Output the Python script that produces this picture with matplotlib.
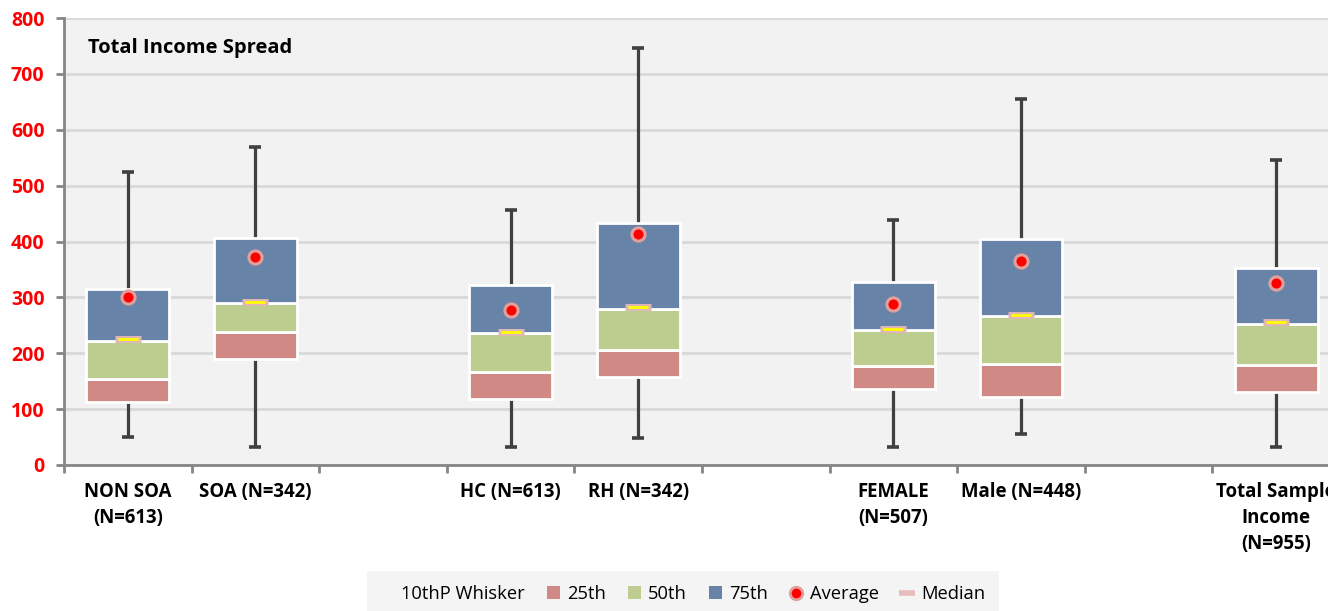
import matplotlib
matplotlib.use("Agg")
import matplotlib.pyplot as plt
from matplotlib.lines import Line2D
from matplotlib.patches import Patch
import numpy as np

plt.rcParams['font.family'] = ['Open Sans', 'DejaVu Sans']

# ---- data (10 slots, None = empty spacer slot) ----
labels = ["NON SOA\n(N=613)", "SOA (N=342)", "", "HC (N=613)", "RH (N=342)", "",
          "FEMALE\n(N=507)", "Male (N=448)", "", "Total Sample\nIncome\n(N=955)"]
whisker_low = [50, 32, None, 32, 49, None, 32, 55, None, 33]
box_bottom  = [113, 190, None, 119, 158, None, 136, 121, None, 131]
p25_top     = [154, 238, None, 166, 205, None, 177, 181, None, 179]
p50_top     = [222, 290, None, 236, 280, None, 242, 266, None, 253]
p75_top     = [315, 406, None, 323, 433, None, 327, 405, None, 353]
whisker_high = [524, 569, None, 457, 746, None, 438, 655, None, 545]
average     = [301, 372, None, 277, 414, None, 289, 365, None, 326]
median      = [225, 292, None, 238, 282, None, 243, 268, None, 256]

c_red = "#d18985"
c_green = "#bccd8f"
c_blue = "#6883a8"
c_whisk = "#404040"

fig = plt.figure(figsize=(13.28, 6.11), dpi=100)
ax = fig.add_axes([64/1328, (611-465)/611, 1276/1328, 447/611])
ax.set_facecolor("#f2f2f2")

n = len(labels)
x = np.arange(n)
w = 0.65
cap = 0.047
for i in range(n):
    if whisker_low[i] is None:
        continue
    # whiskers
    ax.plot([x[i], x[i]], [whisker_low[i], box_bottom[i]], color=c_whisk, lw=2.3, zorder=2, solid_capstyle='butt')
    ax.plot([x[i], x[i]], [p75_top[i], whisker_high[i]], color=c_whisk, lw=2.3, zorder=2, solid_capstyle='butt')
    ax.plot([x[i]-cap, x[i]+cap], [whisker_low[i]]*2, color=c_whisk, lw=2.6, zorder=2, solid_capstyle='butt')
    ax.plot([x[i]-cap, x[i]+cap], [whisker_high[i]]*2, color=c_whisk, lw=2.6, zorder=2, solid_capstyle='butt')
    # stacked boxes
    ax.bar(x[i], p25_top[i]-box_bottom[i], bottom=box_bottom[i], width=w, color=c_red,
           edgecolor="white", linewidth=2, zorder=3)
    ax.bar(x[i], p50_top[i]-p25_top[i], bottom=p25_top[i], width=w, color=c_green,
           edgecolor="white", linewidth=2, zorder=3)
    ax.bar(x[i], p75_top[i]-p50_top[i], bottom=p50_top[i], width=w, color=c_blue,
           edgecolor="white", linewidth=2, zorder=3)
    # median
    ax.plot([x[i]], [median[i]], marker='_', markersize=19, markeredgewidth=5,
            color="#dfb7b5", zorder=4)
    ax.plot([x[i]], [median[i]], marker='_', markersize=14, markeredgewidth=2,
            color="#ffff00", zorder=5)
    # average
    ax.plot([x[i]], [average[i]], marker='o', markersize=9.5, markerfacecolor="#ff0000",
            markeredgecolor="#e0a09c", markeredgewidth=2.2, zorder=6, linestyle='none')

ax.set_xlim(-0.5, n-0.5)
ax.set_ylim(0, 800)
ax.set_yticks(np.arange(0, 801, 100))
ax.set_xticks(np.arange(-0.5, n, 1.0))
ax.set_xticklabels([])
ax.set_xticks(x, minor=True)
ax.set_xticklabels(labels, minor=True, fontsize=13.4, fontweight='bold', color='black',
                   linespacing=1.4, va='top')
ax.tick_params(axis='x', which='minor', length=0, pad=12)
ax.tick_params(axis='x', which='major', length=6, width=2, color='#868686', direction='out')
ax.tick_params(axis='y', length=6, width=2, color='#868686', direction='out', pad=8,
               labelsize=14, labelcolor='#ff0000')
for lab in ax.get_yticklabels():
    lab.set_fontweight('bold')
ax.grid(axis='y', color='#d9d9d9', lw=2, zorder=0)
ax.set_axisbelow(True)
for s in ['top', 'right']:
    ax.spines[s].set_visible(False)
for s in ['left', 'bottom']:
    ax.spines[s].set_color('#868686')
    ax.spines[s].set_linewidth(2)

ax.text((88-64)/1276, (465-48)/447, "Total Income Spread", transform=ax.transAxes,
        fontsize=14.5, fontweight='bold', va='center', ha='left')

handles = [
    Line2D([], [], color='none'),
    Patch(facecolor=c_red, edgecolor='none'),
    Patch(facecolor=c_green, edgecolor='none'),
    Patch(facecolor=c_blue, edgecolor='none'),
    Line2D([], [], marker='o', linestyle='none', markersize=9, markerfacecolor='#ff0000',
           markeredgecolor='#e0a09c', markeredgewidth=2),
    Line2D([], [], marker='_', linestyle='none', markersize=12, markeredgewidth=4,
           color='#e6bcbc'),
]
names = ["10thP Whisker", "25th", "50th", "75th", "Average", "Median"]
leg = fig.legend(handles, names, loc='center', bbox_to_anchor=(683/1328, 1-594/611),
                 ncol=6, frameon=True, fontsize=13.2, handlelength=0.7, handleheight=0.7,
                 handletextpad=0.4, columnspacing=1.2, borderpad=0.45)
leg.get_frame().set_facecolor('#f2f2f2')
leg.get_frame().set_edgecolor('none')
leg.get_frame().set_boxstyle('square')

fig.savefig("out.png", dpi=100, facecolor='white')
